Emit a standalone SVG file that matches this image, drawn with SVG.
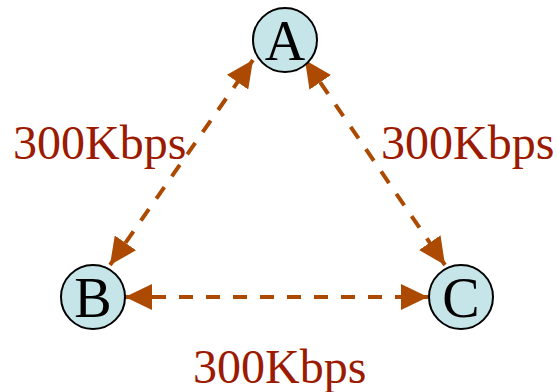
<svg xmlns="http://www.w3.org/2000/svg" width="557" height="392" viewBox="0 0 557 392">
  <style>
    .node circle { fill: #c6e5e8; stroke: #000; stroke-width: 2; }
    .node text { font-family: "Liberation Serif", "Times New Roman", serif; font-size: 56px; fill: #000; text-anchor: middle; }
    .link { stroke: #ab4a00; stroke-width: 4; stroke-dasharray: 14 13; fill: none; marker-start: url(#head); marker-end: url(#head); }
    .label { font-family: "Liberation Serif", "Times New Roman", serif; font-size: 48px; fill: #9b1a00; }
  </style>
  <defs>
    <marker id="head" markerUnits="userSpaceOnUse" viewBox="0 0 27 26" markerWidth="27" markerHeight="26" refX="27" refY="13" orient="auto-start-reverse">
      <path d="M0,0 L27,13 L0,26 Z" fill="#ab4a00"/>
    </marker>
  </defs>

  <g id="connectors">
    <line class="link" x1="110" y1="265" x2="253" y2="60"/>
    <line class="link" x1="305" y1="60" x2="445" y2="265"/>
    <line class="link" x1="125" y1="297" x2="428" y2="297"/>
  </g>

  <g id="labels">
    <text class="label" x="13" y="159">300Kbps</text>
    <text class="label" x="381" y="159">300Kbps</text>
    <text class="label" x="193" y="383">300Kbps</text>
  </g>

  <g id="node-A" class="node">
    <circle cx="285" cy="40" r="32"/>
    <text x="285" y="60">A</text>
  </g>
  <g id="node-B" class="node">
    <circle cx="93" cy="297" r="32"/>
    <text x="93" y="317">B</text>
  </g>
  <g id="node-C" class="node">
    <circle cx="461" cy="297" r="32"/>
    <text x="461" y="317">C</text>
  </g>
</svg>
